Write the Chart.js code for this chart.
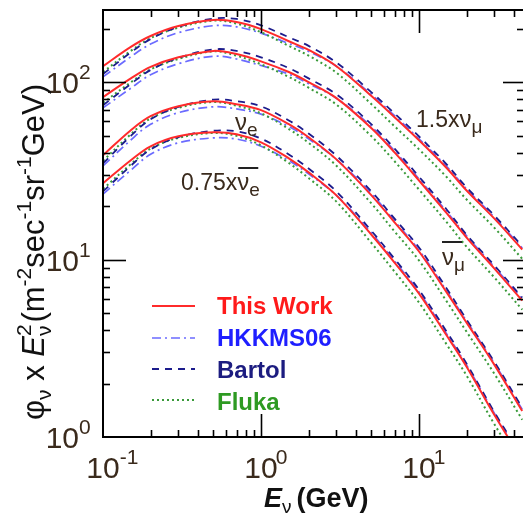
<!DOCTYPE html>
<html>
<head>
<meta charset="utf-8">
<title>Atmospheric neutrino flux</title>
<script src="https://cdn.jsdelivr.net/npm/chart.js@4.4.1/dist/chart.umd.min.js"></script>
<style>
  html, body { margin: 0; padding: 0; background: #fff; }
  canvas { display: block; }
</style>
</head>
<body>
<canvas id="fluxChart" width="523" height="514"></canvas>
<script>
// Neutrino energy (GeV) at which the curves were read
const energies = [0.1, 0.15, 0.2, 0.3, 0.5, 0.7, 1, 1.5, 2, 3, 5, 7, 10, 15, 20, 30, 45];

// 1.5 x nu_mu
const numuThisWork = [123, 158, 182, 207, 224, 218, 199, 170, 152, 123, 83.4, 63.4, 47.0, 32.7, 24.5, 17.0, 11.4];
const numuHkkms    = [107, 139, 164, 190, 208, 205, 189, 165, 149, 123, 85.1, 64.7, 47.9, 33.4, 25.0, 17.3, 11.6];
const numuBartol   = [111, 147, 175, 205, 228, 227, 209, 179, 160, 129, 87.6, 66.6, 49.4, 34.3, 25.5, 17.7, 11.9];
const numuFluka    = [114, 150, 177, 203, 222, 214, 191, 160, 141, 113, 75.1, 56.4, 41.8, 29.1, 21.8, 15.1, 10.1];

// anti nu_mu
const numubarThisWork = [82.3, 105, 122, 138, 150, 144, 131, 114, 100, 81.2, 55.0, 40.2, 27.9, 18.2, 13.3, 8.90, 5.87];
const numubarHkkms    = [71.6, 92.4, 110, 127, 140, 135, 124, 111, 98.0, 81.2, 56.1, 41.0, 28.5, 18.6, 13.6, 9.08, 5.99];
const numubarBartol   = [74.1, 97.7, 117, 137, 153, 150, 138, 120, 105, 85.3, 57.8, 42.2, 29.3, 19.1, 13.8, 9.26, 6.10];
const numubarFluka    = [76.5, 99.8, 118, 135, 149, 141, 126, 107, 93.0, 74.7, 49.5, 35.8, 24.8, 16.2, 11.8, 7.92, 5.22];

// nu_e
const nueThisWork = [38.7, 53.6, 64.3, 73.2, 78.1, 75.1, 69.5, 57.9, 48.9, 36.7, 23.0, 16.2, 11.1, 6.51, 4.41, 2.55, 1.40];
const nueHkkms    = [33.7, 47.2, 57.9, 67.3, 72.6, 70.6, 66.0, 56.2, 47.9, 36.7, 23.5, 16.5, 11.3, 6.64, 4.50, 2.60, 1.43];
const nueBartol   = [34.8, 49.8, 61.7, 72.5, 79.7, 78.1, 73.0, 60.8, 51.3, 38.5, 24.2, 17.0, 11.7, 6.84, 4.59, 2.65, 1.46];
const nueFluka    = [36.0, 50.9, 62.4, 71.7, 77.3, 73.6, 66.7, 54.4, 45.5, 33.8, 20.7, 14.4, 9.88, 5.79, 3.92, 2.27, 1.25];

// 0.75 x anti nu_e
const nuebarThisWork = [26.9, 36.3, 43.5, 49.5, 52.2, 50.8, 45.8, 37.2, 31.0, 23.0, 13.8, 9.62, 6.43, 3.72, 2.49, 1.33, 0.74];
const nuebarHkkms    = [23.4, 31.9, 39.2, 45.5, 48.5, 47.8, 43.5, 36.1, 30.4, 23.0, 14.1, 9.81, 6.56, 3.79, 2.54, 1.36, 0.75];
const nuebarBartol   = [24.2, 33.8, 41.8, 49.0, 53.2, 52.8, 48.1, 39.1, 32.6, 24.2, 14.5, 10.1, 6.75, 3.91, 2.59, 1.38, 0.77];
const nuebarFluka    = [25.0, 34.5, 42.2, 48.5, 51.7, 49.8, 44.0, 35.0, 28.8, 21.2, 12.4, 8.56, 5.72, 3.31, 2.22, 1.18, 0.66];

// axis decades and their exponent labels
const xDecades = [0.1, 1, 10];
const xExponents = ['-1', '0', '1'];
const yDecades = [1, 10, 100];
const yExponents = ['0', '1', '2'];
const minorSteps = [1, 2, 3, 4, 5, 6, 7, 8, 9];

const legendNames = ['This Work', 'HKKMS06', 'Bartol', 'Fluka'];

const FONT = '"Liberation Sans", Arial, sans-serif';
const INK = '#3a2a1c';

const models = {
  thisWork: { color: '#ff2b2b', text: '#ff1a1a', width: 2, dash: [] },
  hkkms:    { color: '#6b6bff', text: '#1f1fff', width: 1.7, dash: [9, 4, 2, 4] },
  bartol:   { color: '#1c1c8c', text: '#1c1c80', width: 1.8, dash: [7, 6] },
  fluka:    { color: '#3a9a3a', text: '#2e9a22', width: 2, dash: [2, 3] }
};

const pts = vals => energies.map((e, i) => ({ x: e, y: vals[i] }));
const line = (vals, m) => ({
  data: pts(vals),
  borderColor: m.color,
  borderWidth: m.width,
  borderDash: m.dash,
  pointRadius: 0,
  fill: false,
  tension: 0.35
});

// first datasets are painted last (on top)
const datasets = [
  ...[numuThisWork, numubarThisWork, nueThisWork, nuebarThisWork].map(v => line(v, models.thisWork)),
  ...[numuBartol, numubarBartol, nueBartol, nuebarBartol].map(v => line(v, models.bartol)),
  ...[numuFluka, numubarFluka, nueFluka, nuebarFluka].map(v => line(v, models.fluka)),
  ...[numuHkkms, numubarHkkms, nueHkkms, nuebarHkkms].map(v => line(v, models.hkkms))
];

// draws a run of text pieces: {t, size, dy, style}
function drawRich(ctx, parts, x0, y0) {
  let x = x0;
  parts.forEach(p => {
    ctx.font = (p.style || '') + ' ' + p.size + 'px ' + FONT;
    ctx.fillText(p.t, x, y0 + (p.dy || 0));
    if (!p.stack) x += ctx.measureText(p.t).width + (p.gap || 0);
  });
  return x - x0;
}
function richWidth(ctx, parts) {
  let w = 0;
  parts.forEach(p => {
    ctx.font = (p.style || '') + ' ' + p.size + 'px ' + FONT;
    if (!p.stack) w += ctx.measureText(p.t).width + (p.gap || 0);
  });
  return w;
}

const decor = {
  id: 'decor',
  afterDatasetsDraw(chart) {
    const { ctx, chartArea: a, scales: { x, y } } = chart;
    ctx.save();

    // frame
    ctx.strokeStyle = '#000';
    ctx.lineWidth = 2;
    ctx.beginPath();
    ctx.moveTo(a.right + 2, a.top);
    ctx.lineTo(a.left, a.top);
    ctx.lineTo(a.left, a.bottom);
    ctx.lineTo(a.right + 2, a.bottom);
    ctx.stroke();

    // inward ticks
    ctx.lineWidth = 1.6;
    const tick = (x1, y1, x2, y2) => { ctx.beginPath(); ctx.moveTo(x1, y1); ctx.lineTo(x2, y2); ctx.stroke(); };
    xDecades.forEach(d => minorSteps.forEach(m => {
      const v = d * m;
      if (v <= x.min || v > x.max) return;
      const px = Math.round(x.getPixelForValue(v)) + 0.5;
      const len = m === 1 ? 23 : 7;
      tick(px, a.bottom, px, a.bottom - len);
      tick(px, a.top, px, a.top + len);
    }));
    yDecades.forEach(d => minorSteps.forEach(m => {
      const v = d * m;
      if (v <= y.min || v > y.max) return;
      const py = Math.round(y.getPixelForValue(v)) + 0.5;
      tick(a.left, py, a.left + (m === 1 ? 23 : 7), py);
      tick(a.right, py, a.right - (m === 1 ? 20 : 6), py);
    }));

    // tick labels
    ctx.fillStyle = INK;
    ctx.textBaseline = 'alphabetic';
    xDecades.forEach((d, i) => {
      const px = x.getPixelForValue(d);
      ctx.font = '30px ' + FONT;
      const w = ctx.measureText('10').width;
      ctx.textAlign = 'center';
      ctx.fillText('10', px, 478);
      ctx.textAlign = 'left';
      ctx.font = '21px ' + FONT;
      ctx.fillText(xExponents[i], px + w / 2 + (xExponents[i][0] === '-' ? 0 : -2), 464);
    });
    yDecades.forEach((d, i) => {
      const py = y.getPixelForValue(d);
      ctx.font = '30px ' + FONT;
      ctx.textAlign = 'right';
      ctx.fillText('10', 79, py + 11);
      ctx.textAlign = 'left';
      ctx.font = '21px ' + FONT;
      ctx.fillText(yExponents[i], 79, py - 3);
    });

    // x title
    ctx.fillStyle = '#111';
    ctx.textAlign = 'left';
    drawRich(ctx, [
      { t: 'E', size: 27, style: 'italic bold' },
      { t: 'ν', size: 19, dy: 6, gap: 5 },
      { t: '(GeV)', size: 27, style: 'bold' }
    ], 264, 507);

    // y title, rotated
    const yParts = [
      { t: 'φ', size: 31 },
      { t: 'ν', size: 21, dy: 7 },
      { t: ' x ', size: 31 },
      { t: 'E', size: 31, style: 'italic' },
      { t: '2', size: 21, dy: -13, stack: true },
      { t: 'ν', size: 21, dy: 7, gap: 3 },
      { t: '(m', size: 31 },
      { t: '-2', size: 21, dy: -13 },
      { t: 'sec', size: 31 },
      { t: '-1', size: 21, dy: -13 },
      { t: 'sr', size: 31 },
      { t: '-1', size: 21, dy: -13 },
      { t: 'GeV)', size: 31 }
    ];
    ctx.save();
    ctx.translate(44, 252);
    ctx.rotate(-Math.PI / 2);
    drawRich(ctx, yParts, -richWidth(ctx, yParts) / 2, 0);
    ctx.restore();

    // curve labels
    ctx.fillStyle = INK;
    ctx.strokeStyle = '#222';
    ctx.lineWidth = 2;
    drawRich(ctx, [{ t: 'ν', size: 24 }, { t: 'e', size: 19, dy: 6 }], 235, 130);
    const w075 = drawRich(ctx, [{ t: '0.75x', size: 23 }], 181, 190);
    const nuX = 181 + w075;
    drawRich(ctx, [{ t: 'ν', size: 24 }, { t: 'e', size: 19, dy: 6 }], nuX, 190);
    tick(nuX + 1, 168, nuX + 21, 168);
    drawRich(ctx, [{ t: '1.5x', size: 23 }, { t: 'ν', size: 24 }, { t: 'μ', size: 19, dy: 6 }], 416, 127);
    drawRich(ctx, [{ t: 'ν', size: 24 }, { t: 'μ', size: 19, dy: 6 }], 442, 265);
    tick(442, 242, 462, 242);

    // legend inside the frame
    const keys = ['thisWork', 'hkkms', 'bartol', 'fluka'];
    const lineY = [306, 338, 369, 400];
    const textY = [314, 346, 378, 410];
    keys.forEach((k, i) => {
      const m = models[k];
      ctx.strokeStyle = m.color;
      ctx.lineWidth = m.width;
      ctx.setLineDash(m.dash);
      tick(152, lineY[i], 195, lineY[i]);
      ctx.setLineDash([]);
      ctx.fillStyle = m.text;
      ctx.font = 'bold 24px ' + FONT;
      ctx.fillText(legendNames[i], 217, textY[i]);
    });

    ctx.restore();
  }
};

new Chart(document.getElementById('fluxChart').getContext('2d'), {
  type: 'line',
  data: { datasets },
  options: {
    responsive: false,
    animation: false,
    devicePixelRatio: 1,
    layout: { padding: { left: 103, top: 10, right: 0, bottom: 77 } },
    plugins: { legend: { display: false }, tooltip: { enabled: false } },
    scales: {
      x: { type: 'logarithmic', min: 0.1, max: 45.5, display: false },
      y: { type: 'logarithmic', min: 1, max: 255, display: false }
    }
  },
  plugins: [decor]
});
</script>
</body>
</html>
